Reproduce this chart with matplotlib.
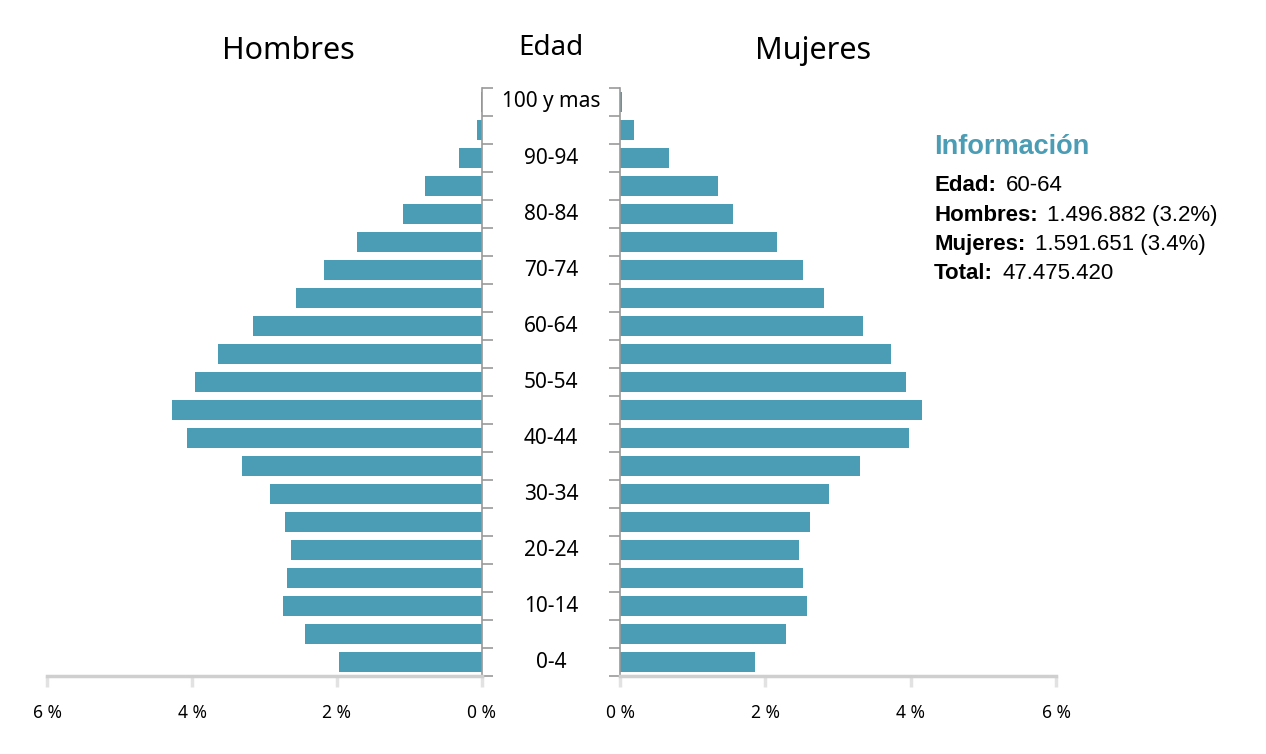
import numpy as np
import matplotlib
matplotlib.use('Agg')
import matplotlib.pyplot as plt
from matplotlib.transforms import blended_transform_factory

# grupos de edad, de abajo hacia arriba
edades = ['0-4', '5-9', '10-14', '15-19', '20-24', '25-29', '30-34', '35-39',
          '40-44', '45-49', '50-54', '55-59', '60-64', '65-69', '70-74',
          '75-79', '80-84', '85-89', '90-94', '95-99', '100 y mas']
hombres = [1.97, 2.44, 2.74, 2.69, 2.63, 2.72, 2.92, 3.31, 4.07, 4.28, 3.96,
           3.64, 3.16, 2.57, 2.18, 1.72, 1.09, 0.79, 0.32, 0.07, 0.01]
mujeres = [1.86, 2.28, 2.57, 2.52, 2.46, 2.61, 2.88, 3.30, 3.98, 4.16, 3.94,
           3.73, 3.34, 2.81, 2.52, 2.16, 1.56, 1.35, 0.67, 0.19, 0.03]
xticks = [0, 2, 4, 6]
xtick_labels = ['0 %', '2 %', '4 %', '6 %']

info_titulo = 'Información'
info_claves = ['Edad:', 'Hombres:', 'Mujeres:', 'Total:']
info_valores = ['60-64', '1.496.882 (3.2%)', '1.591.651 (3.4%)', '47.475.420']

color_barra = '#4a9db5'
gris_eje = '#cfcfcf'
gris_tick = '#9a9a9a'
fuente = ['Noto Sans', 'DejaVu Sans']

W, H = 1266, 754
fig = plt.figure(figsize=(W / 100, H / 100), dpi=100)

bottom = 1 - 676 / H
height = 588 / H
axL = fig.add_axes([47 / W, bottom, 435 / W, height])
axR = fig.add_axes([620 / W, bottom, 436 / W, height])

y = np.arange(len(edades)) + 0.5
axL.barh(y, hombres, height=0.72, color=color_barra, zorder=2)
axR.barh(y, mujeres, height=0.72, color=color_barra, zorder=2)

for ax, lado in ((axL, 'right'), (axR, 'left')):
    ax.set_ylim(0, len(edades))
    ax.set_xlim(0, 6)
    for s in ax.spines.values():
        s.set_visible(False)
    ax.spines[lado].set_visible(True)
    ax.spines[lado].set_color(gris_tick)
    ax.spines[lado].set_linewidth(1.2)
    ax.spines['bottom'].set_visible(True)
    ax.spines['bottom'].set_color(gris_eje)
    ax.spines['bottom'].set_linewidth(2.5)
    ax.set_yticks(np.arange(len(edades) + 1))
    ax.set_yticklabels([])
    ax.yaxis.set_ticks_position(lado)
    ax.tick_params(axis='y', direction='out', length=8, width=1.2, color=gris_tick)
    ax.set_xticks(xticks)
    ax.set_xticklabels(xtick_labels, family=fuente, fontsize=12.5)
    ax.tick_params(axis='x', direction='out', length=8, width=2.5,
                   color='#e2e2e2', pad=12)
axL.invert_xaxis()

# etiquetas de edad en el centro
trans = blended_transform_factory(fig.transFigure, axL.transData)
for i, lab in enumerate(edades):
    if i % 2 == 0:
        fig.text(551 / W, y[i], lab, transform=trans, ha='center', va='center',
                 family=fuente, fontsize=15)

# titulos
fig.text(288 / W, 1 - 59 / H, 'Hombres', ha='center', va='baseline',
         family=fuente, fontsize=22)
fig.text(813 / W, 1 - 59 / H, 'Mujeres', ha='center', va='baseline',
         family=fuente, fontsize=22)
fig.text(551 / W, 1 - 55 / H, 'Edad', ha='center', va='baseline',
         family=fuente, fontsize=20)

# panel de informacion
fig.text(934 / W, 1 - 154 / H, info_titulo, ha='left', va='baseline',
         family='Liberation Sans', fontweight='bold', fontsize=19.5,
         color=color_barra)
bases = [191, 221, 250, 279]
for clave, valor, b in zip(info_claves, info_valores, bases):
    t = fig.text(934 / W, 1 - b / H, clave, ha='left', va='baseline',
                 family='Liberation Sans', fontweight='bold', fontsize=16)
    fig.add_artist(plt.Annotation(valor, xy=(1, 0), xycoords=t,
                                  xytext=(7, 0), textcoords='offset points',
                                  ha='left', va='bottom',
                                  family='Liberation Sans', fontsize=16))

fig.savefig('out.png', dpi=100, facecolor='white')
